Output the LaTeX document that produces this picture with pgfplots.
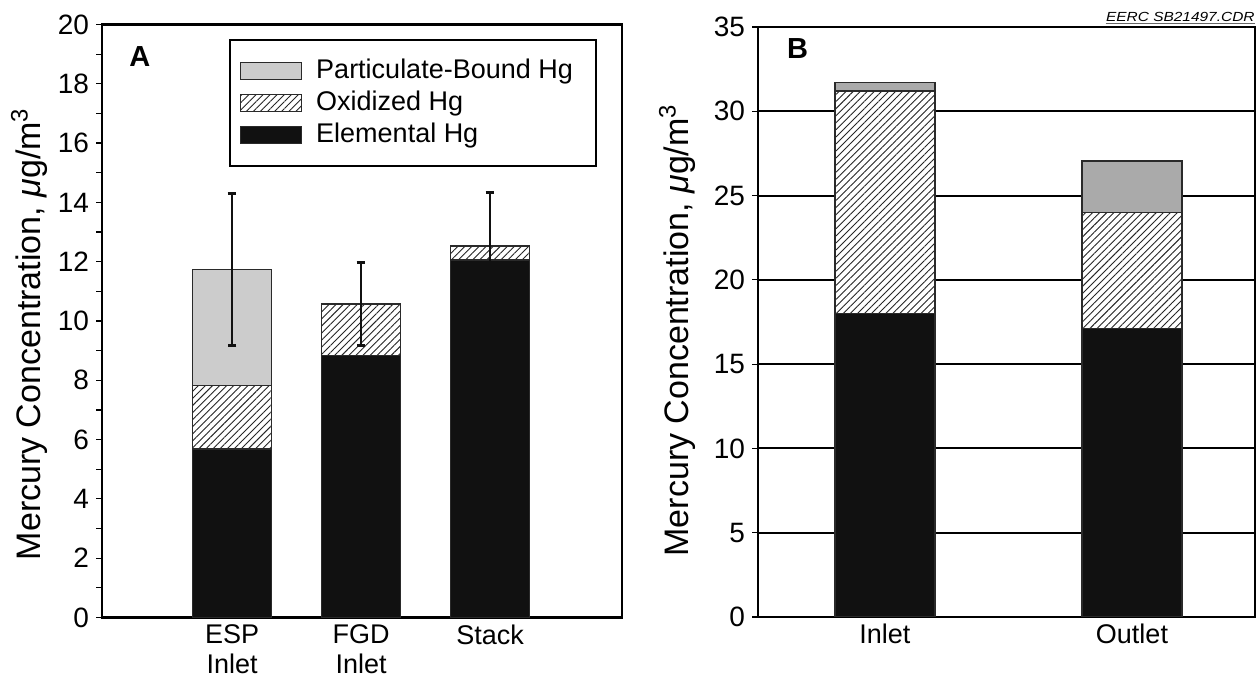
\documentclass[border=0pt]{standalone}
\usepackage{fontspec}
\setmainfont{Liberation Sans}
\usepackage{graphicx}
\usepackage{pgfplots}
\pgfplotsset{compat=1.18}
\usetikzlibrary{patterns.meta}

\definecolor{elem}{HTML}{111111}
\definecolor{partA}{HTML}{CCCCCC}
\definecolor{partB}{HTML}{AAAAAA}
\definecolor{edge}{HTML}{2A2A2A}

\pgfplotsset{
  hgpanel/.style={
    scale only axis,
    ybar stacked,
    ymin=0,
    axis line style={line width=1.15pt},
    x tick style={draw=none},
    ytick pos=left,
    ytick align=outside,
    major tick length=3pt,
    minor tick length=3pt,
    y tick style={line width=0.6pt, black},
    /pgf/number format/assume math mode=true,
    yticklabel style={font=\fontsize{14}{16}\selectfont},
    xticklabel style={align=center, font=\fontsize{13.5}{15}\selectfont},
    ylabel={Mercury Concentration, \textit{μ}g/m\textsuperscript{3}},
    ylabel style={anchor=center, font=\fontsize{17}{20}\selectfont},
  },
  elemental/.style={fill=elem, draw=edge, line width=0.6pt},
  oxidized/.style={fill=white, draw=edge, line width=0.6pt,
    postaction={pattern={Lines[angle=45, distance=2.5pt, line width=0.45pt]}, pattern color=black!85}},
  geomA/.style={
    scale only axis,
    at={(51pt,32.75pt)}, anchor=south west,
    width=260pt, height=296.5pt,
    xmin=-1.008, xmax=3.023, ymin=0, ymax=20,
  },
}

\begin{document}
\begin{tikzpicture}
\useasboundingbox (0,0) rectangle (630pt,341.5pt);

% panel A
\begin{axis}[
  hgpanel, geomA,
  bar width=39.5pt,
  xtick={0,1,2},
  xticklabels={{ESP\\Inlet},{FGD\\Inlet},{Stack}},
  ytick={0,2,...,20}, minor ytick={1,3,...,19},
  ylabel style={at={(axis description cs:-0.140,0.478)}},
  reverse legend,
  legend cell align=left,
  legend style={at={(axis description cs:0.244,0.9756)}, anchor=north west,
    draw=black, line width=1.15pt, font=\fontsize{13.5}{15}\selectfont,
    inner xsep=5pt, inner ysep=7.5pt, row sep=0pt, column sep=5.5pt,
    nodes={inner sep=1.5pt, text height=10pt, text depth=3pt}},
  legend image code/.code={\draw[#1, line width=0.6pt] (0pt,-4.25pt) rectangle (30.5pt,4.25pt);},
]
\addplot[elemental] coordinates {(0,5.68) (1,8.83) (2,12.06)};
\addlegendentry{Elemental Hg}
\addplot[oxidized] coordinates {(0,2.14) (1,1.74) (2,0.47)};
\addlegendentry{Oxidized Hg}
\addplot[fill=partA, draw=edge, line width=0.6pt] coordinates {(0,3.92) (1,0) (2,0)};
\addlegendentry{Particulate-Bound Hg\hspace*{5pt}}
\node[anchor=north west, inner sep=0pt, font=\fontsize{14.5}{16}\selectfont\bfseries]
  at (axis description cs:0.052,0.963) {A};
\end{axis}

% error bars of panel A, at the bar totals
\begin{axis}[geomA, hide axis]
\addplot[draw=none, mark=none, line width=1.4pt, color=elem,
  error bars/.cd, y dir=both, y explicit, error mark=|,
  error bar style={line width=1.4pt, draw=elem, solid},
  error mark options={line width=1.5pt, mark size=2.2pt, draw=elem, solid}]
  coordinates {(0,11.74) +- (0,2.55) (1,10.57) +- (0,1.40) (2,12.53) +- (0,1.81)};
\end{axis}

% panel B
\begin{axis}[
  hgpanel,
  at={(379pt,33pt)}, anchor=south west,
  width=248.5pt, height=295pt,
  bar width=50pt,
  xmin=-0.514, xmax=1.498, ymax=35,
  xtick={0,1},
  xticklabels={Inlet,Outlet},
  ytick={0,5,...,35},
  ymajorgrids,
  grid style={black, line width=1pt},
  ylabel style={at={(axis description cs:-0.163,0.486)}},
]
\addplot[elemental] coordinates {(0,18.0) (1,17.1)};
\addplot[oxidized] coordinates {(0,13.2) (1,6.9)};
\addplot[fill=partB, draw=edge, line width=0.6pt] coordinates {(0,0.5) (1,3.05)};
\node[anchor=north west, inner sep=0pt, font=\fontsize{14.5}{16}\selectfont\bfseries]
  at (axis description cs:0.058,0.981) {B};
\coordinate (btr) at (axis description cs:1,1);
\end{axis}
\node (eerc) [anchor=base east, inner sep=0pt, font=\fontsize{6.6}{7.5}\selectfont\itshape]
  at ([yshift=2.65pt]btr) {\scalebox{1.17}[1]{EERC SB21497.CDR}};
\draw[black!60, line width=0.4pt] ([yshift=-0.8pt]eerc.base west) -- ([yshift=-0.8pt]eerc.base east);
\end{tikzpicture}
\end{document}
